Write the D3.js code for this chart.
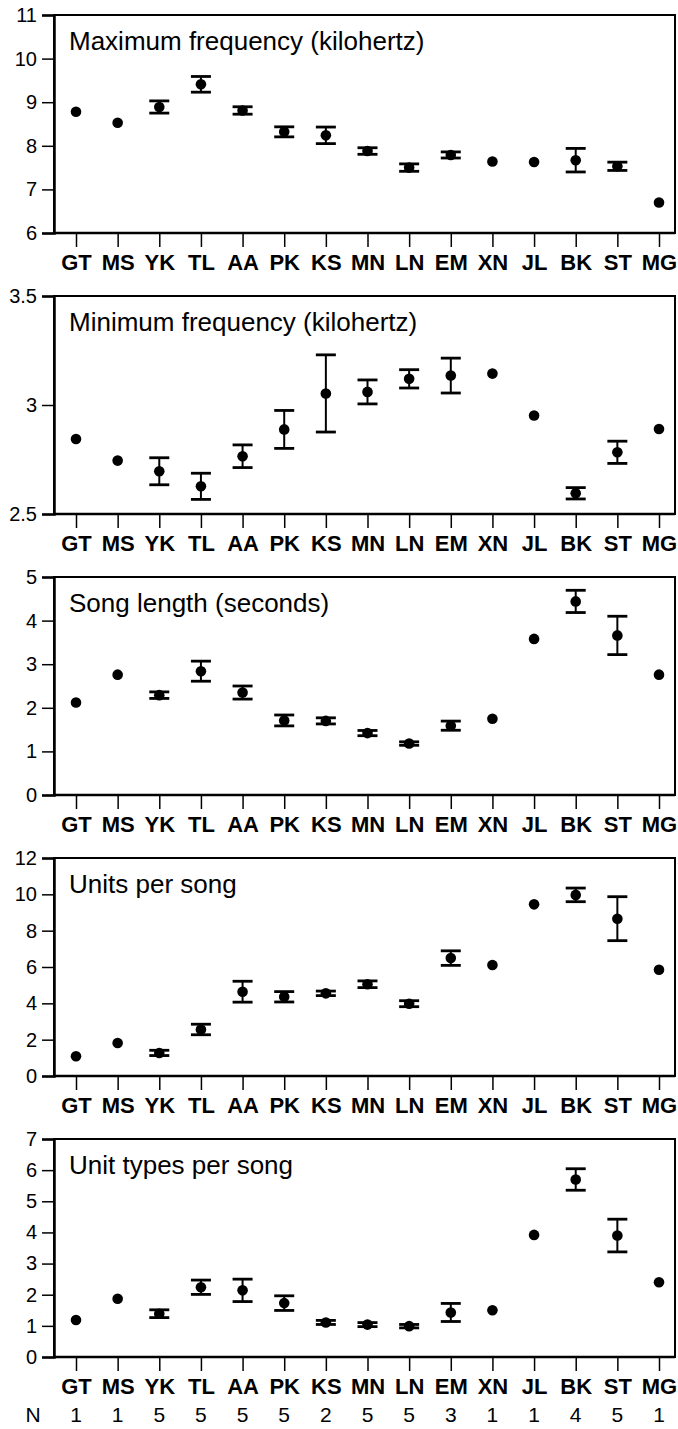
<!DOCTYPE html>
<html>
<head>
<meta charset="utf-8">
<script src="https://cdn.jsdelivr.net/npm/d3@7"></script>
<style>
  body { margin: 0; background: #fff; }
  svg { display: block; font-family: "Liberation Sans", Arial, sans-serif; }
</style>
</head>
<body>
<svg id="chart" width="678" height="1429"></svg>
<script>
// sites, left to right
var sites = ["GT","MS","YK","TL","AA","PK","KS","MN","LN","EM","XN","JL","BK","ST","MG"];
var sampleN = [1,1,5,5,5,5,2,5,5,3,1,1,4,5,1];

// means and standard errors (null = single bird, no bar)
var maxFreq   = [8.78, 8.53, 8.89, 9.41, 8.81, 8.32, 8.24, 7.88, 7.50, 7.79, 7.64, 7.63, 7.67, 7.53, 6.70];
var maxFreqSE = [null, null, 0.14, 0.18, 0.085, 0.115, 0.19, 0.075, 0.085, 0.07, null, null, 0.27, 0.095, null];

var minFreq   = [2.844, 2.745, 2.696, 2.627, 2.765, 2.888, 3.053, 3.060, 3.120, 3.135, 3.144, 2.952, 2.595, 2.783, 2.890];
var minFreqSE = [null, null, 0.062, 0.06, 0.052, 0.087, 0.177, 0.055, 0.042, 0.08, null, null, 0.026, 0.051, null];

var songLen   = [2.12, 2.76, 2.29, 2.84, 2.35, 1.71, 1.70, 1.42, 1.18, 1.59, 1.75, 3.58, 4.44, 3.66, 2.76];
var songLenSE = [null, null, 0.075, 0.23, 0.15, 0.125, 0.07, 0.06, 0.04, 0.105, null, null, 0.255, 0.44, null];

var units     = [1.09, 1.82, 1.27, 2.56, 4.64, 4.36, 4.55, 5.05, 3.98, 6.49, 6.11, 9.45, 9.97, 8.66, 5.85];
var unitsSE   = [null, null, 0.145, 0.29, 0.575, 0.285, 0.125, 0.185, 0.165, 0.4, null, null, 0.375, 1.21, null];

var unitTypes   = [1.19, 1.87, 1.39, 2.24, 2.14, 1.73, 1.11, 1.04, 0.99, 1.43, 1.50, 3.92, 5.70, 3.90, 2.40];
var unitTypesSE = [null, null, 0.125, 0.23, 0.36, 0.235, 0.065, 0.065, 0.055, 0.29, null, null, 0.345, 0.525, null];

var panelTitles = ["Maximum frequency (kilohertz)", "Minimum frequency (kilohertz)",
                   "Song length (seconds)", "Units per song", "Unit types per song"];
var yDomains = [[6, 11], [2.5, 3.5], [0, 5], [0, 12], [0, 7]];
var yTicks = [[6,7,8,9,10,11], [2.5,3,3.5], [0,1,2,3,4,5], [0,2,4,6,8,10,12], [0,1,2,3,4,5,6,7]];

var panelMeans = [maxFreq, minFreq, songLen, units, unitTypes];
var panelSE = [maxFreqSE, minFreqSE, songLenSE, unitsSE, unitTypesSE];

var svg = d3.select("#chart");
var left = 54, right = 675, plotH = 218;
var tops = [15, 296, 577, 858, 1139];

var x = d3.scalePoint().domain(sites).range([76, 659]);

function drawPanel(i) {
    var top = tops[i];
    var g = svg.append("g");
    var y = d3.scaleLinear().domain(yDomains[i]).range([top + plotH, top]);

    // frame
    g.append("rect")
        .attr("x", left).attr("y", top)
        .attr("width", right - left).attr("height", plotH)
        .attr("fill", "none").attr("stroke", "#000").attr("stroke-width", 2);

    var yAxis = g.append("g")
        .attr("transform", "translate(" + left + ",0)")
        .call(d3.axisLeft(y).tickValues(yTicks[i]).tickSize(12).tickPadding(5)
              .tickFormat(d3.format("")));
    yAxis.select(".domain").attr("stroke-width", 2.5);
    yAxis.selectAll(".tick line").attr("stroke-width", 1.5);
    yAxis.selectAll("text").attr("font-size", 20).attr("font-family", "Liberation Sans, Arial, sans-serif");

    var xAxis = g.append("g")
        .attr("transform", "translate(0," + (top + plotH) + ")")
        .call(d3.axisBottom(x).tickSize(14).tickPadding(7));
    xAxis.select(".domain").remove();
    xAxis.selectAll(".tick line").attr("stroke-width", 1.5);
    xAxis.selectAll("text").attr("font-size", 22).attr("font-weight", "bold")
        .attr("font-family", "Liberation Sans, Arial, sans-serif");
    g.append("line")
        .attr("x1", left).attr("x2", right)
        .attr("y1", top + plotH).attr("y2", top + plotH)
        .attr("stroke", "#000").attr("stroke-width", 2.5);

    g.append("text")
        .attr("x", left + 15).attr("y", top + 35)
        .attr("font-size", 26)
        .text(panelTitles[i]);

    var rows = sites.map(function(s, k) {
        return {site: s, mean: panelMeans[i][k], se: panelSE[i][k]};
    });
    var bars = rows.filter(function(d) { return d.se != null; });
    var capW = 10;

    g.selectAll(".bar").data(bars).enter().append("line")
        .attr("x1", function(d) { return x(d.site); })
        .attr("x2", function(d) { return x(d.site); })
        .attr("y1", function(d) { return y(d.mean - d.se); })
        .attr("y2", function(d) { return y(d.mean + d.se); })
        .attr("stroke", "#000").attr("stroke-width", 2);
    [-1, 1].forEach(function(sign) {
        g.selectAll(".cap" + sign).data(bars).enter().append("line")
            .attr("x1", function(d) { return x(d.site) - capW; })
            .attr("x2", function(d) { return x(d.site) + capW; })
            .attr("y1", function(d) { return y(d.mean + sign * d.se); })
            .attr("y2", function(d) { return y(d.mean + sign * d.se); })
            .attr("stroke", "#000").attr("stroke-width", 2.8);
    });

    g.selectAll("circle").data(rows).enter().append("circle")
        .attr("cx", function(d) { return x(d.site); })
        .attr("cy", function(d) { return y(d.mean); })
        .attr("r", 5.3)
        .attr("fill", "#000");
}

for (var i = 0; i < panelTitles.length; i++) drawPanel(i);

// sample sizes under the last panel
svg.append("text")
    .attr("x", 33).attr("y", 1422)
    .attr("text-anchor", "middle")
    .attr("font-size", 21)
    .text("N");
svg.selectAll(".nlab").data(sites).enter().append("text")
    .attr("x", function(d) { return x(d); })
    .attr("y", 1422)
    .attr("text-anchor", "middle")
    .attr("font-size", 21)
    .text(function(d, k) { return sampleN[k]; });
</script>
</body>
</html>
